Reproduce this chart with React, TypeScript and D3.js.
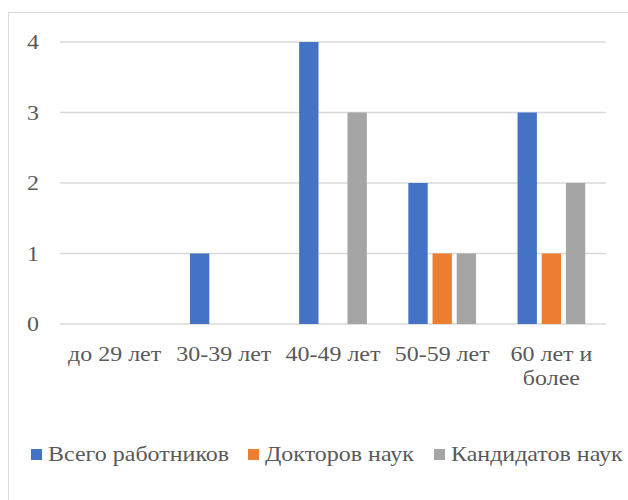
import React from 'react';
import * as d3 from 'd3';

const categories = ['до 29 лет', '30-39 лет', '40-49 лет', '50-59 лет', '60 лет и более'];
const seriesNames = ['Всего работников', 'Докторов наук', 'Кандидатов наук'];
const totalValues = [0, 1, 4, 2, 3];
const doctorValues = [0, 0, 0, 1, 1];
const candidateValues = [0, 0, 3, 1, 2];
const yTicks = [0, 1, 2, 3, 4];

const colors = ['#4472C4', '#ED7D31', '#A5A5A5'];
const W = 628;
const H = 500;
const FS = 22;
const SX = 1.09; // source text is drawn slightly wider than tall
const textStyle: React.CSSProperties = { fontFamily: 'Liberation Serif', fontSize: FS };

// rough greedy wrap, using an average glyph width estimate
function wrapLabel(label: string, width: number): string[] {
  const words = label.split(' ');
  const lines: string[] = [];
  let cur = '';
  for (const w of words) {
    const next = cur ? cur + ' ' + w : w;
    if (cur && next.length * FS * 0.45 * SX > width) {
      lines.push(cur);
      cur = w;
    } else cur = next;
  }
  lines.push(cur);
  return lines;
}

const App: React.FC = () => {
  const margin = { top: 42, right: 22, bottom: 176, left: 60 };
  const innerW = W - margin.left - margin.right;
  const innerH = H - margin.top - margin.bottom;
  const series = [totalValues, doctorValues, candidateValues];

  const x0 = d3.scaleBand<string>().domain(categories).range([0, innerW]).padding(0);
  const outer = x0.bandwidth() * 0.19;
  const x1 = d3.scaleBand<number>()
    .domain(d3.range(series.length))
    .range([outer, x0.bandwidth() - outer])
    .paddingInner(0.2);
  const y = d3.scaleLinear().domain([0, 4]).range([innerH, 0]);

  const legendX = [31, 248, 434];

  return (
    <div style={{ position: 'fixed', left: 0, top: 0 }}>
      <svg width={W} height={H} style={{ display: 'block' }}>
        <rect x={8.5} y={12.5} width={W + 20} height={H + 20} fill="#fff" stroke="#d9d9d9" />
        <g transform={`translate(${margin.left},${margin.top})`}>
          {yTicks.map(t => (
            <g key={t}>
              <line x1={0} x2={innerW} y1={y(t)} y2={y(t)} stroke="#d9d9d9" strokeWidth={1.5} />
              <text
                transform={`translate(-21,${y(t)}) scale(${SX},1)`}
                dy="0.33em"
                textAnchor="end"
                fill="#595959"
                style={textStyle}
              >
                {t}
              </text>
            </g>
          ))}
          {categories.map((c, ci) => (
            <g key={c} transform={`translate(${x0(c)},0)`}>
              {series.map((s, si) =>
                s[ci] > 0 ? (
                  <rect
                    key={si}
                    x={x1(si)}
                    width={x1.bandwidth()}
                    y={y(s[ci])}
                    height={innerH - y(s[ci])}
                    fill={colors[si]}
                  />
                ) : null,
              )}
              <text
                transform={`translate(${x0.bandwidth() / 2},${innerH + 37}) scale(${SX},1)`}
                textAnchor="middle"
                fill="#595959"
                style={textStyle}
              >
                {wrapLabel(c, x0.bandwidth() - 4).map((ln, li) => (
                  <tspan key={li} x={0} dy={li === 0 ? 0 : '1.1em'}>
                    {ln}
                  </tspan>
                ))}
              </text>
            </g>
          ))}
        </g>
        {seriesNames.map((name, i) => (
          <g key={name} transform={`translate(${legendX[i]},461)`}>
            <rect x={0} y={-12} width={11} height={11} fill={colors[i]} />
            <text transform={`translate(17,0) scale(${SX},1)`} fill="#595959" style={textStyle}>
              {name}
            </text>
          </g>
        ))}
      </svg>
    </div>
  );
};

export default App;
